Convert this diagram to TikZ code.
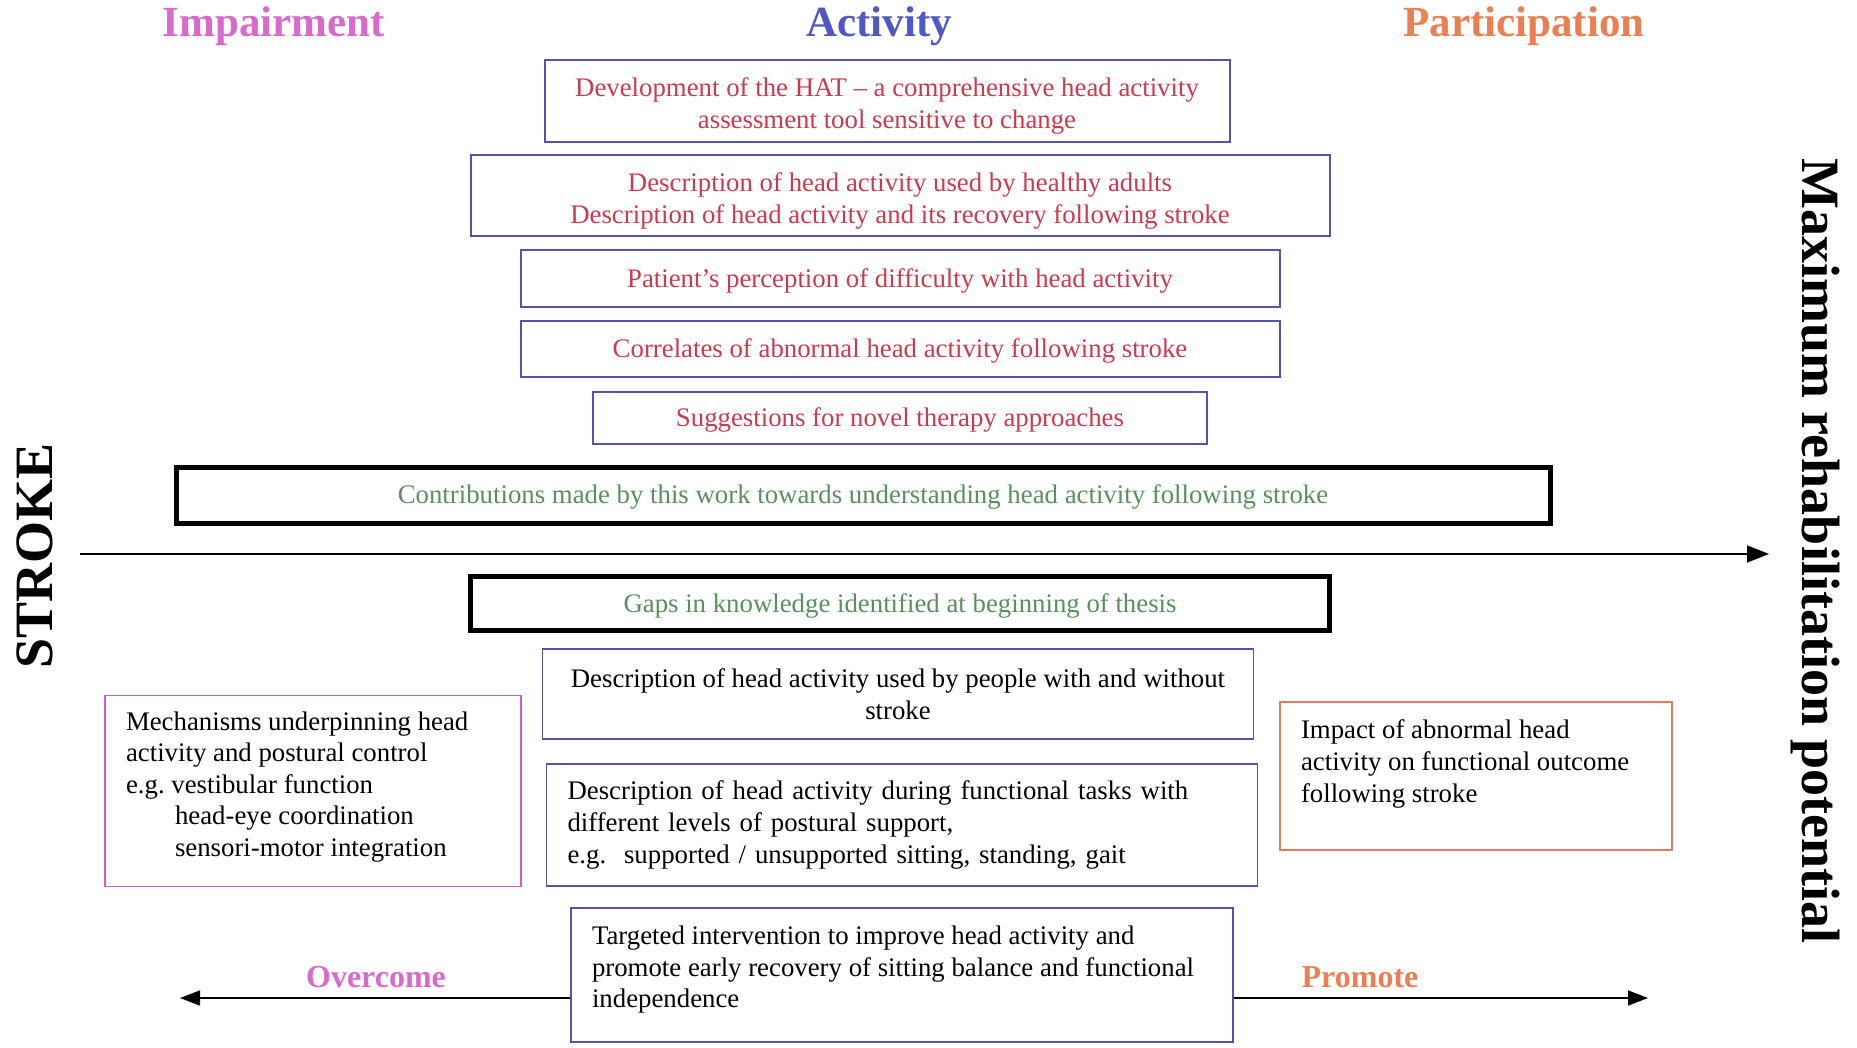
\documentclass[tikz,border=0pt]{standalone}
\usepackage{fontspec}
\setmainfont{Liberation Serif}
\usetikzlibrary{arrows.meta}

\definecolor{impcol}{HTML}{D96ACB}
\definecolor{actcol}{HTML}{5158C6}
\definecolor{parcol}{HTML}{EA8052}
\definecolor{redtext}{HTML}{CC3A4E}
\definecolor{greentext}{HTML}{58905E}
\definecolor{boxblue}{HTML}{5552B2}
\definecolor{boxpink}{HTML}{C963BE}
\definecolor{boxorange}{HTML}{E27A5E}

\tikzset{
  body/.style={font=\fontsize{26.8}{31.6}\selectfont},
  heading/.style={font=\fontsize{43}{50}\selectfont\bfseries, anchor=base, inner sep=0},
  sidelabel/.style={font=\fontsize{54}{60}\selectfont\bfseries, inner sep=0},
  endlabel/.style={font=\fontsize{32}{38}\selectfont\bfseries, anchor=base, inner sep=0},
  actbox/.style={draw=boxblue, line width=2pt, text=redtext, align=center, body, inner sep=0, text height=22pt},
  heavybox/.style={draw=black, line width=5pt, text=greentext, align=center, body, inner sep=0, text height=23pt},
  plainbox/.style={draw=boxblue, line width=1.8pt, text=black, body, inner sep=0},
  axis/.style={line width=1.6pt, -{Triangle[length=22pt,width=17pt]}},
  sidearrow/.style={line width=1.6pt, -{Triangle[length=20pt,width=15pt]}}
}

\begin{document}
\begin{tikzpicture}[x=1pt,y=-1pt]
\useasboundingbox[fill=white] (0,0) rectangle (1857,1048);

% column headings
\node[heading, text=impcol] (himp) at (274,37) {Impairment};
\node[heading, text=actcol] (hact) at (879,37) {Activity};
\node[heading, text=parcol] (hpar) at (1524,37) {Participation};

% side labels
\node[sidelabel, rotate=90] (stroke) at (35,556) {STROKE};
\node[sidelabel, rotate=-90] (maxpot) at (1815,551) {Maximum rehabilitation potential};

% contributions of the work
\node[actbox, minimum width=685pt, minimum height=82pt, text height=60pt] (hat) at (887,101)
  {Development of the HAT -- a comprehensive head activity\\assessment tool sensitive to change};
\node[actbox, minimum width=859pt, minimum height=81pt, text height=60pt] (desc) at (900,196)
  {Description of head activity used by healthy adults\\Description of head activity and its recovery following stroke};
\node[actbox, minimum width=759pt, minimum height=57pt] (perc) at (900,279)
  {Patient’s perception of difficulty with head activity};
\node[actbox, minimum width=759pt, minimum height=56pt] (corr) at (900,349)
  {Correlates of abnormal head activity following stroke};
\node[actbox, minimum width=614pt, minimum height=52pt] (sugg) at (900,418)
  {Suggestions for novel therapy approaches};
\node[heavybox, minimum width=1374pt, minimum height=56pt] (contrib) at (863,495)
  {Contributions made by this work towards understanding head activity following stroke};

% time axis from stroke to maximum potential
\coordinate (axstart) at (80,554);
\coordinate (axend) at (1769,554);
\draw[axis] (axstart) -- (axend);

% gaps in knowledge
\node[heavybox, minimum width=859pt, minimum height=54pt, text height=25pt] (gaps) at (900,603)
  {Gaps in knowledge identified at beginning of thesis};
\node[plainbox, align=center, minimum width=711pt, minimum height=90pt] (people) at (898,694)
  {Description of head activity used by people with and without\\stroke};
\node[plainbox, draw=boxpink, inner xsep=21pt, inner ysep=0pt] (mech) at (313,791)
  {\parbox[c][191pt][t]{374pt}{\vspace{16pt}Mechanisms underpinning head\\activity and postural control\\e.g.\ vestibular function\\
   \hspace*{49pt}head-eye coordination\\\hspace*{49pt}sensori-motor integration}};
\node[plainbox, align=left, text width=669pt, inner xsep=21pt,
      minimum height=122pt] (tasks) at (902,825)
  {Description of head activity during functional tasks with\\different levels of postural support,\\
   e.g.\ \ supported / unsupported sitting, standing, gait};
\node[plainbox, draw=boxorange, inner xsep=21pt, inner ysep=0pt] (impact) at (1476,776)
  {\parbox[c][148pt][t]{350pt}{\vspace{18pt}Impact of abnormal head\\activity on functional outcome\\following stroke}};
\node[plainbox, inner xsep=21pt, inner ysep=0pt] (target) at (902,975)
  {\parbox[c][134pt][t]{620pt}{\vspace{18pt}Targeted intervention to improve head activity and\\promote early recovery of sitting balance and functional\\independence}};

% overcome / promote arrows
\coordinate (overend) at (180,998);
\coordinate (promend) at (1648,998);
\draw[sidearrow] (target.west |- overend) -- (overend);
\draw[sidearrow] (target.east |- promend) -- (promend);
\node[endlabel, text=impcol] (over) at (376,987) {Overcome};
\node[endlabel, text=parcol] (prom) at (1360,987) {Promote};
\end{tikzpicture}
\end{document}
